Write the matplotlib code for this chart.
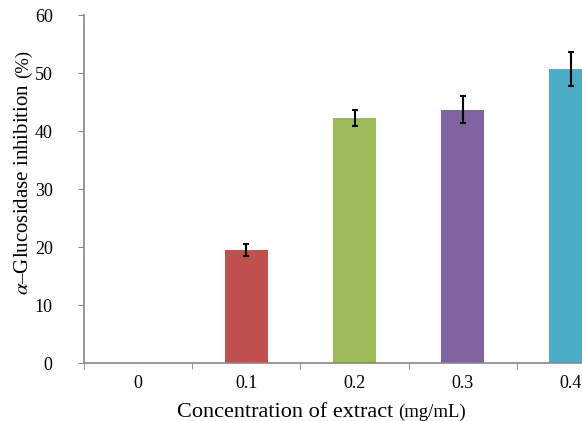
import matplotlib.pyplot as plt
import numpy as np

# Datos
concentraciones = ['0', '0.1', '0.2', '0.3', '0.4']
inhibicion = [0, 19.5, 42.3, 43.7, 50.7]
errores = [0, 1.1, 1.4, 2.3, 2.9]
colores = ['#C0504D', '#C0504D', '#9BBB59', '#8064A2', '#4BACC6']

plt.rcParams['font.family'] = ['Liberation Serif', 'DejaVu Serif']
plt.rcParams['mathtext.fontset'] = 'stix'

W, H = 582, 421
fig = plt.figure(figsize=(W / 100, H / 100), dpi=100)
# el eje se sale por la derecha, como en la figura original recortada
ax = fig.add_axes([84 / W, 1 - 363 / H, 541 / W, 348 / H])

x = np.arange(len(concentraciones))
ax.bar(x, inhibicion, 0.4, color=colores)
ax.errorbar(x[1:], inhibicion[1:], yerr=errores[1:], fmt='none',
            ecolor='black', elinewidth=1.5, capsize=2.5, capthick=1.5)

ax.set_xlim(-0.5, len(concentraciones) - 0.5)
ax.set_ylim(0, 60)
ax.set_yticks(range(0, 61, 10))
ax.set_xticks(x)
ax.set_xticklabels(concentraciones)
ax.set_xticks(np.arange(-0.5, len(concentraciones), 1), minor=True)

for s in ['top', 'right']:
    ax.spines[s].set_visible(False)
for s in ['left', 'bottom']:
    ax.spines[s].set_color('#868686')
    ax.spines[s].set_linewidth(1.2)

ax.tick_params(axis='y', direction='out', length=4, color='#868686',
               labelsize=13, pad=18.5)
ax.tick_params(axis='x', which='major', length=0, labelsize=13, pad=8.5)
ax.tick_params(axis='x', which='minor', direction='out', length=4,
               color='#868686')

# etiquetas con dos tamaños de letra
rend = fig.canvas.get_renderer()

t1 = fig.text(177 / W, 4 / H, 'Concentration of extract', fontsize=16,
              ha='left', va='baseline')
bb = t1.get_window_extent(renderer=rend)
fig.text((bb.x1 + 5) / W, 4 / H, '(mg/mL)', fontsize=13.5,
         ha='left', va='baseline')

t2 = fig.text(28 / W, (H - 295) / H, r'$\alpha$–Glucosidase inhibition',
              fontsize=15, rotation=90, ha='left', va='baseline',
              rotation_mode='anchor')
bb = t2.get_window_extent(renderer=rend)
fig.text(28 / W, (bb.y1 + 5) / H, '(%)', fontsize=13.5,
         rotation=90, ha='left', va='baseline', rotation_mode='anchor')

fig.savefig('out.png', dpi=100)
